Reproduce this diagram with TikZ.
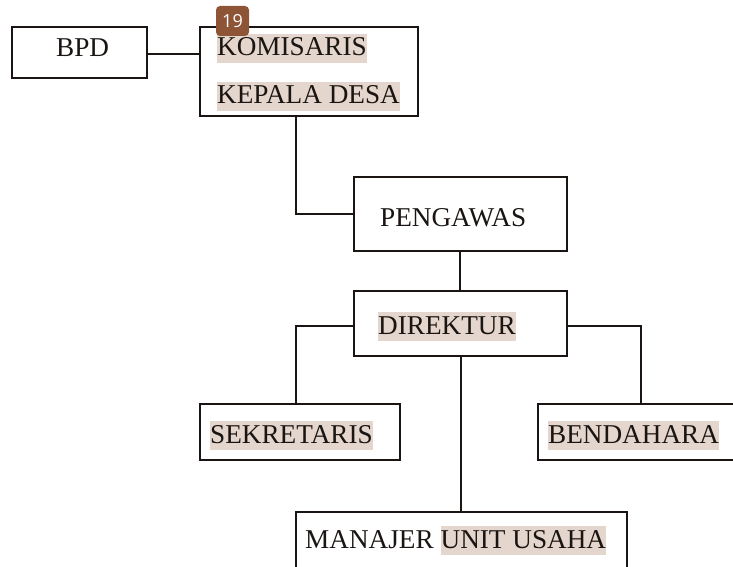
\documentclass[tikz,border=0pt]{standalone}
\usepackage{fontspec}
\setmainfont{Liberation Serif}
\newfontfamily\badgefont{Open Sans}
\definecolor{hlc}{HTML}{E4D6CC}
\definecolor{badgec}{HTML}{8E5436}
\definecolor{ink}{HTML}{1A1512}
\tikzset{
  box/.style={draw=ink, line width=2pt, rectangle, inner sep=0pt},
  conn/.style={draw=ink, line width=2pt},
  lbl/.style={font=\fontsize{27.2}{31}\selectfont, text=ink, inner sep=0pt, anchor=base west},
  hl/.style={lbl, fill=hlc, text height=22pt, text depth=7pt},
  badge/.style={fill=badgec, rounded corners=4pt, minimum width=33pt, minimum height=30pt, inner sep=0pt, text=white, font=\badgefont\fontsize{18}{20}\selectfont}
}
\begin{document}
\begin{tikzpicture}[x=1pt,y=-1pt]
\useasboundingbox (0,0) rectangle (733,567);
% boxes
\node[box, minimum width=135pt, minimum height=51pt] (bpd) at (79.5,52.5) {};
\node[box, minimum width=218pt, minimum height=89pt] (kom) at (309,71.5) {};
\node[box, minimum width=213pt, minimum height=74pt] (peng) at (460,214) {};
\node[box, minimum width=213pt, minimum height=65pt] (dir) at (460.5,323.5) {};
\node[box, minimum width=200pt, minimum height=56pt] (sek) at (300,432) {};
\node[box, minimum width=222pt, minimum height=56pt] (ben) at (649,432) {};
\node[box, minimum width=331pt, minimum height=88pt] (man) at (461.5,556) {};
% connectors
\draw[conn] ([yshift=-1.5pt]bpd.east) -- ([yshift=-1.5pt]bpd.east -| kom.west);
\draw[conn] ([xshift=-13pt]kom.south) |- (peng.west);
\draw[conn] (peng.south) -- (peng.south |- dir.north);
\draw[conn] ([yshift=-2.5pt]dir.west) -| ([xshift=-4pt]sek.north);
\draw[conn] ([yshift=-2.5pt]dir.east) -| ([xshift=-8pt]ben.north);
\draw[conn] (dir.south) -- (dir.south |- man.north);
% texts
\node[lbl] (tbpd) at (56,57) {BPD};
\node[hl] (tkom) at (217,56) {KOMISARIS};
\node[hl] (tkep) at (217,104) {KEPALA DESA};
\node[lbl] (tpeng) at (380,226) {PENGAWAS};
\node[hl] (tdir) at (378,334) {DIREKTUR};
\node[hl] (tsek) at (210,443) {SEKRETARIS};
\node[hl] (tben) at (548,443) {BENDAHARA};
\node[lbl] (tman) at (305,548) {MANAJER};
\node[hl] (tunit) at ([xshift=6.6pt]tman.base east) {UNIT USAHA};
% badge
\node[badge] (b19) at (232.5,21) {19};
\end{tikzpicture}
\end{document}
